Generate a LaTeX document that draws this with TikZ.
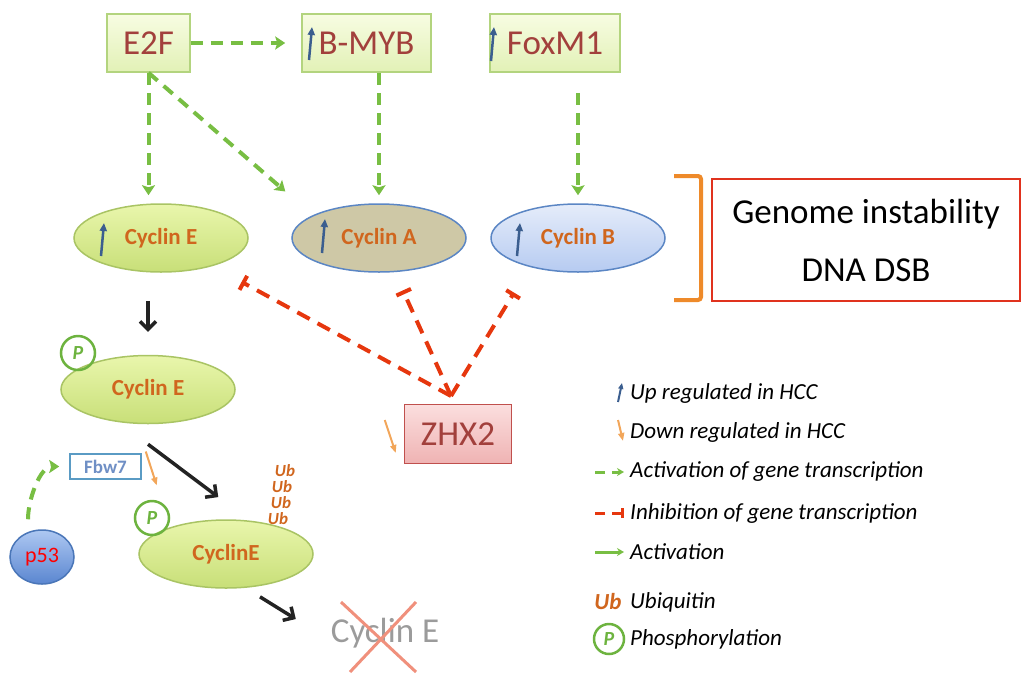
\documentclass[tikz,border=0pt]{standalone}
\usepackage{fontspec}
\setmainfont{Carlito}
\usetikzlibrary{arrows.meta,shapes.geometric}
\definecolor{genedraw}{HTML}{B3D47E}
\definecolor{genetop}{HTML}{F7FCE2}
\definecolor{genebot}{HTML}{E2F1B6}
\definecolor{genetext}{HTML}{A2403C}
\definecolor{cycEdraw}{HTML}{A9C464}
\definecolor{cycEtop}{HTML}{E9F6AC}
\definecolor{cycEbot}{HTML}{C8DF78}
\definecolor{cycABdraw}{HTML}{5B86C4}
\definecolor{cycAfill}{HTML}{CEC8A6}
\definecolor{cycBtop}{HTML}{E5ECFA}
\definecolor{cycBbot}{HTML}{B6CBF1}
\definecolor{cyctext}{HTML}{D0661E}
\definecolor{zhxdraw}{HTML}{C0504D}
\definecolor{zhxtop}{HTML}{FBDEDE}
\definecolor{zhxbot}{HTML}{EFB3B3}
\definecolor{p53top}{HTML}{AEC8F2}
\definecolor{p53bot}{HTML}{5A86D0}
\definecolor{p53draw}{HTML}{4A76B8}
\definecolor{fbwblue}{HTML}{5A9BC4}
\definecolor{fbwtext}{HTML}{6F8FC5}
\definecolor{actgreen}{HTML}{78BE43}
\definecolor{inhred}{HTML}{E6370E}
\definecolor{brkorange}{HTML}{EE8A2A}
\definecolor{boxred}{HTML}{E0321E}
\definecolor{blkarrow}{HTML}{232323}
\definecolor{upblue}{HTML}{3B5E8F}
\definecolor{downorange}{HTML}{F2A65A}
\definecolor{phosgreen}{HTML}{6DB33F}
\definecolor{gonegray}{HTML}{9B9B9B}
\definecolor{crossred}{HTML}{F0907C}
\begin{document}
\begin{tikzpicture}[
		x=1pt, y=-1pt,
		gene/.style={draw=genedraw, line width=1.5pt, top color=genetop, bottom color=genebot, text=genetext, font=\fontsize{35}{40}\selectfont, minimum height=58pt, inner sep=0pt},
		cyclin/.style={ellipse, line width=1.5pt, minimum width=174pt, minimum height=68pt, inner sep=0pt, text=cyctext, font=\bfseries\fontsize{23}{26}\selectfont},
		act/.style={draw=actgreen, line width=4pt, dash pattern=on 12pt off 8pt, -{Stealth[length=10pt,width=13pt,inset=2pt]}},
		inh/.style={draw=inhred, line width=4pt, dash pattern=on 14pt off 9pt, -{Bar[width=16pt]}},
		blk/.style={draw=blkarrow, line width=3.5pt, -{Straight Barb[length=8pt,width=16pt]}},
		upreg/.style={draw=upblue, line width=2.5pt, -{Triangle[length=8pt,width=7pt]}},
		downreg/.style={draw=downorange, line width=2pt, -{Triangle[length=8pt,width=6pt]}},
		phos/.style={circle, draw=phosgreen, line width=2.5pt, minimum size=34pt, inner sep=0pt, text=phosgreen, font=\bfseries\itshape\fontsize{20}{22}\selectfont},
		ubq/.style={text=cyctext, font=\bfseries\itshape\fontsize{17}{18}\selectfont, inner sep=0pt},
		cross/.style={draw=crossred, line width=3pt},
		legend/.style={anchor=west, inner sep=0pt, font=\itshape\fontsize{23}{26}\selectfont}
	]
	\useasboundingbox (0,0) rectangle (1024,675);
	\node[gene, minimum width=83pt] (e2f) at (148.5,43) {E2F};
	\node[gene, minimum width=129pt] (bmyb) at (366.5,43) {B-MYB};
	\node[gene, minimum width=130pt] (foxm1) at (555,43) {FoxM1};
	\node[cyclin, draw=cycEdraw, top color=cycEtop, bottom color=cycEbot] (cycE) at (161,238) {Cyclin E};
	\node[cyclin, draw=cycABdraw, fill=cycAfill] (cycA) at (379,238) {Cyclin A};
	\node[cyclin, draw=cycABdraw, top color=cycBtop, bottom color=cycBbot] (cycB) at (578,238) {Cyclin B};
	\node[draw=boxred, line width=2pt, minimum width=308pt, minimum height=122pt, inner sep=0pt, align=center, font=\fontsize{35}{58}\selectfont] (gis) at (866,240) {Genome instability\\DNA DSB};
	\node[gene, draw=zhxdraw, top color=zhxtop, bottom color=zhxbot, minimum width=107pt, minimum height=59pt] (zhx2) at (458,434) {ZHX2};
	\coordinate (apex) at (451,396);
	\node[cyclin, draw=cycEdraw, top color=cycEtop, bottom color=cycEbot] (cycEp) at (148,389.5) {Cyclin E};
	\node[phos] (pE) at (78,353) {P};
	\node[draw=fbwblue, line width=1.5pt, fill=white, text=fbwtext, font=\bfseries\fontsize{19}{21}\selectfont, minimum width=71pt, minimum height=25pt, inner sep=0pt] (fbw7) at (105.5,466.5) {Fbw7};
	\node[ellipse, draw=p53draw, line width=1.5pt, top color=p53top, bottom color=p53bot, text=red, font=\fontsize{22}{24}\selectfont, minimum width=64pt, minimum height=54pt, inner sep=0pt] (p53) at (42,557) {p53};
	\node[cyclin, draw=cycEdraw, top color=cycEtop, bottom color=cycEbot] (cycE2) at (226,554) {CyclinE};
	\node[phos] (pE2) at (152,518) {P};
	\node[ubq] (ub1) at (285,471) {Ub};
	\node[ubq] (ub2) at (282,487) {Ub};
	\node[ubq] (ub3) at (281,503) {Ub};
	\node[ubq] (ub4) at (278,519) {Ub};
	\node[text=gonegray, font=\fontsize{35}{40}\selectfont, inner sep=0pt] (gone) at (385,633) {Cyclin E};
	\draw[act, shorten >=16pt] (e2f) -- (bmyb);
	\draw[act, shorten >=8pt] (e2f.south) -- (e2f.south |- cycE.north);
	\draw[act, shorten >=124pt] (e2f.south) -- (cycA.south);
	\draw[act, shorten >=8pt] (bmyb.south -| cycA.north) -- (cycA.north);
	\draw[act, shorten <=20pt, shorten >=8pt] (foxm1.south -| cycB.north) -- (cycB.north);
	\draw[inh, shorten >=33pt] (apex) -- (cycE);
	\draw[inh, shorten >=20pt] (apex) -- (cycA);
	\draw[inh, shorten >=30pt] (apex) -- (cycB.211);
	\draw[blk, shorten <=28pt, shorten >=23pt] (cycE.south -| cycEp.north) -- (cycEp.north);
	\draw[blk, shorten >=39pt] ([yshift=-20pt]cycEp.south) -- (cycE2.55);
	\draw[blk, shorten <=17pt, shorten >=41pt] (cycE2.-60) -- (gone.188);
	\draw[act, shorten <=10pt, shorten >=10pt] ([xshift=-14pt]p53.north) to[out=90,in=180] (fbw7.west);
	\draw[upreg] ([shift={(-57.5,17)}]bmyb.center) -- ++(3,-33);
	\draw[upreg] ([shift={(-64,18)}]foxm1.center) -- ++(3,-34);
	\draw[upreg] ([shift={(-60,18)}]cycE.center) -- ++(3,-33);
	\draw[upreg] ([shift={(-57,15)}]cycA.center) -- ++(3,-34);
	\draw[upreg] ([shift={(-61,18)}]cycB.center) -- ++(3,-33);
	\draw[downreg] ([shift={(-19,-14)}]zhx2.west) -- ++(11,33);
	\draw[downreg] ([shift={(4,-15)}]fbw7.east) -- ++(11,34);
	\draw[cross] ([shift={(-44,-31)}]gone.center) -- ++(75,70);
	\draw[cross] ([shift={(31,-31)}]gone.center) -- ++(-66,70);
	\draw[draw=brkorange, line width=4pt, rounded corners=3pt] (674,176) -- (701,176) -- (701,300) -- (674,300);
	\draw[upreg, line width=2pt, -{Triangle[length=6pt,width=5pt]}] (618,402) -- (622,383);
	\node[legend] (lgUp) at (630,393) {Up regulated in HCC};
	\draw[downreg] (618,420) -- (623,441);
	\node[legend] (lgDown) at (630,432) {Down regulated in HCC};
	\draw[act, line width=3pt, dash pattern=on 10pt off 7pt, -{Stealth[length=7pt,width=8pt]}] (595,472) -- (624,472);
	\node[legend] (lgAct) at (630,472) {Activation of gene transcription};
	\draw[inh, line width=3pt, dash pattern=on 10pt off 7pt, -{Bar[width=10pt]}] (595,513) -- (624,513);
	\node[legend] (lgInh) at (630,513) {Inhibition of gene transcription};
	\draw[draw=actgreen, line width=3pt, -{Stealth[length=7pt,width=8pt]}] (595,552) -- (624,552);
	\node[legend] (lgAcc) at (630,552) {Activation};
	\node[ubq, font=\bfseries\itshape\fontsize{23}{25}\selectfont] (lgUb) at (608,602) {Ub};
	\node[legend] (lgUbq) at (630,602) {Ubiquitin};
	\node[phos, minimum size=30pt] (lgP) at (609,639) {P};
	\node[legend] (lgPhos) at (630,639) {Phosphorylation};
\end{tikzpicture}
\end{document}
